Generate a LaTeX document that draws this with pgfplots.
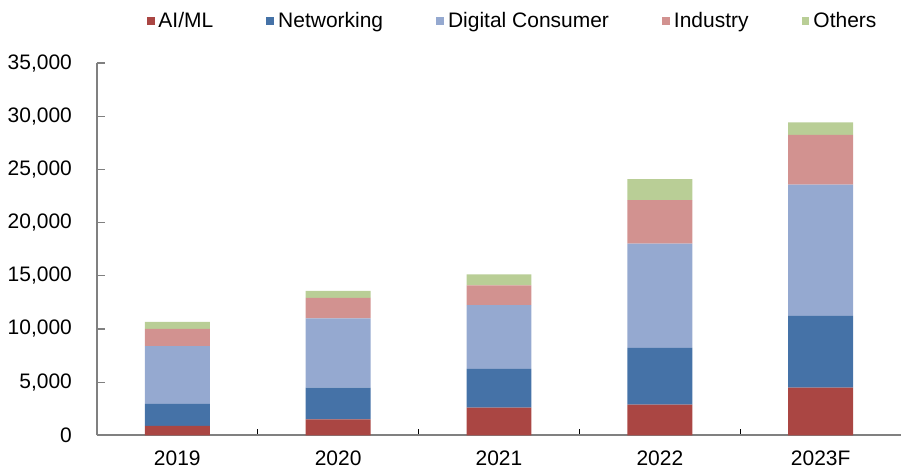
\documentclass[border=0pt]{standalone}
\usepackage{pgfplots}
\pgfplotsset{compat=1.18}
\usepackage{fontspec}
\setmainfont{Liberation Sans}

\definecolor{aiml}{HTML}{AA4643}
\definecolor{netw}{HTML}{4572A7}
\definecolor{digi}{HTML}{95A9D0}
\definecolor{indu}{HTML}{D29290}
\definecolor{othr}{HTML}{B9CE96}
\definecolor{axgray}{HTML}{808080}

\begin{document}
\begin{tikzpicture}[font=\fontsize{10.5}{12.5}\selectfont]
    % sets the page to the reference's margins
    \path (-48.5pt,-16.65pt) rectangle (402.5pt,217.85pt);
    \begin{axis}[
            ybar stacked,
            bar width=32.5pt,
            width=402.5pt,
            height=186.3pt,
            scale only axis,
            xmin=-0.5, xmax=4.5,
            ymin=0, ymax=35000,
            xtick={0,1,2,3,4},
            xticklabels={2019,2020,2021,2022,2023F},
            major x tick style={draw=none},
            minor xtick={0.5,1.5,2.5,3.5},
            minor x tick style={black, line width=0.6pt},
            minor tick length=3pt,
            ytick={0,5000,...,35000},
            scaled y ticks=false,
            major tick length=4pt,
            ytick style={axgray, line width=0.6pt},
            tick align=inside,
            axis x line*=bottom,
            axis y line*=left,
            axis line style={axgray, line width=0.9pt},
            yticklabel style={xshift=-9pt},
            xticklabel style={yshift=-4.5pt},
            /pgf/number format/.cd, fixed, 1000 sep={,}, assume math mode=true,
            /pgfplots/.cd,
            legend columns=5,
            legend style={
                    draw=none, fill=none,
                    at={(0.518,1.113)}, anchor=center,
                    /tikz/every even column/.append style={column sep=24.5pt},
                },
            legend image code/.code={\fill[#1] (0pt,-2pt) rectangle (4pt,2pt);},
        ]

        \addplot[fill=aiml, draw=none] coordinates {
                (0,880) (1,1500) (2,2600) (3,2880) (4,4475)
            };
        \addplot[fill=netw, draw=none] coordinates {
                (0,2065) (1,2975) (2,3655) (3,5345) (4,6755)
            };
        \addplot[fill=digi, draw=none] coordinates {
                (0,5440) (1,6515) (2,5975) (3,9785) (4,12350)
            };
        \addplot[fill=indu, draw=none] coordinates {
                (0,1625) (1,1940) (2,1875) (3,4100) (4,4655)
            };
        \addplot[fill=othr, draw=none] coordinates {
                (0,655) (1,640) (2,1035) (3,1970) (4,1195)
            };

        \legend{AI/ML, Networking, Digital Consumer, Industry, Others}
    \end{axis}
\end{tikzpicture}
\end{document}
